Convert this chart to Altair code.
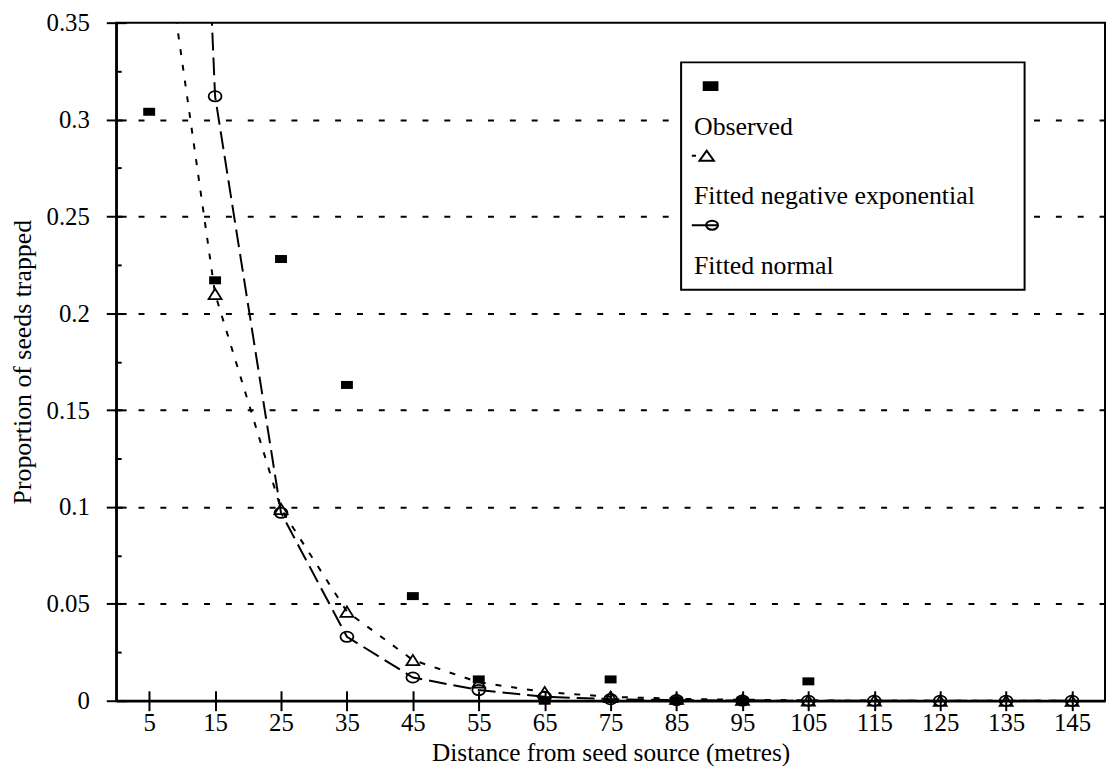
import altair as alt
import pandas as pd

FONT = "Liberation Serif"

distance = [5, 15, 25, 35, 45, 55, 65, 75, 85, 95, 105, 115, 125, 135, 145]
observed = [0.304, 0.217, 0.228, 0.163, 0.054, 0.011, 0.0, 0.011, 0.0, 0.0, 0.010,
            None, None, None, None]
fitted_neg_exp = [0.45, 0.210, 0.099, 0.046, 0.021, 0.0095, 0.0045, 0.002, 0.001, 0.0005, 0.0002, 0.0001, 0.0, 0.0, 0.0]
fitted_normal = [1.1, 0.312, 0.097, 0.033, 0.012, 0.0055, 0.002, 0.0008, 0.0003, 0.0001, 0.0, 0.0, 0.0, 0.0, 0.0]

series_names = ["Observed", "Fitted negative exponential", "Fitted normal"]
y_major = [0, 0.05, 0.1, 0.15, 0.2, 0.25, 0.3, 0.35]
y_all = [0, 0.025, 0.05, 0.075, 0.1, 0.125, 0.15, 0.175, 0.2, 0.225, 0.25, 0.275, 0.3, 0.325, 0.35]

df = pd.DataFrame({"distance": distance, "observed": observed,
                   "negexp": fitted_neg_exp, "normal": fitted_normal})
legend_df = pd.DataFrame({"series": series_names})

W, H = 996, 683
xs = alt.Scale(domain=[0, 150], nice=False, zero=False)
ys = alt.Scale(domain=[0, 0.35], nice=False, zero=True)

# marker shapes (custom SVG paths)
RECT = "M-1,-0.67 L1,-0.67 L1,0.67 L-1,0.67 Z"
TRI = "M-1,0.8 L0,-0.8 L1,0.8 Z"
ELL = "M-1,0 A1,0.8 0 1,1 1,0 A1,0.8 0 1,1 -1,0 Z"
RECT_LEG = "M-0.1,-0.33 L1.05,-0.33 L1.05,0.33 L-0.1,0.33 Z"
TRI_LEG = "M-1.1,0 L-0.75,0 M-0.45,0.42 L0.15,-0.42 L0.75,0.42 Z"
ELL_LEG = "M-1.1,0 L1.1,0 M0.1,0 A0.5,0.38 0 1,1 1.1,0 A0.5,0.38 0 1,1 0.1,0 Z"

x_main = alt.Axis(values=distance, title="Distance from seed source (metres)",
                  tickSize=10, tickWidth=2, tickColor="black",
                  domainColor="black", domainWidth=2.5,
                  labelFont=FONT, labelFontSize=25, labelColor="black", labelPadding=0,
                  labelFlush=False, titleFont=FONT, titleFontSize=25.5,
                  titleFontWeight="normal", titleColor="black", titlePadding=5, grid=False)
y_main = alt.Axis(values=y_major, format="~g", title="Proportion of seeds trapped",
                  tickSize=10, tickWidth=2, tickColor="black",
                  domainColor="black", domainWidth=2.5,
                  labelFont=FONT, labelFontSize=25, labelColor="black", labelPadding=17,
                  titleFont=FONT, titleFontSize=26, titleFontWeight="normal",
                  titleColor="black", titlePadding=11,
                  grid=True, gridColor="black", gridWidth=2, gridDash=[6, 16],
                  gridOpacity={"condition": {"test": "datum.value > 0.001 && datum.value < 0.34",
                                             "value": 1}, "value": 0})
x_inner = alt.Axis(orient="top", offset=-H, values=distance, labels=False, domain=False,
                   tickSize=10, tickWidth=2, tickColor="black", title=None, grid=False)
y_inner = alt.Axis(orient="right", offset=-W, values=y_all, labels=False, domain=False,
                   tickSize={"condition": {"test": "round(datum.value*1000) % 50 == 0",
                                           "value": 10}, "value": 5},
                   tickWidth=2, tickColor="black", title=None, grid=False)

base = alt.Chart(df)

negexp_line = base.mark_line(clip=True, color="black", strokeWidth=2,
                             strokeDash=[6, 10]).encode(
    x=alt.X("distance:Q", scale=xs, axis=x_inner),
    y=alt.Y("negexp:Q", scale=ys, axis=y_inner),
)
normal_line = base.mark_line(clip=True, color="black", strokeWidth=2,
                             strokeDash=[18, 7]).encode(
    x=alt.X("distance:Q", scale=xs, axis=None),
    y=alt.Y("normal:Q", scale=ys, axis=None),
)
obs_pts = base.mark_point(shape=RECT, filled=True, color="black", size=144,
                          opacity=1).encode(
    x=alt.X("distance:Q", scale=xs, axis=x_main),
    y=alt.Y("observed:Q", scale=ys, axis=y_main),
)
negexp_pts = base.transform_filter("datum.negexp <= 0.35").mark_point(
    shape=TRI, filled=False, stroke="black", strokeWidth=1.8, size=169, opacity=1).encode(
    x=alt.X("distance:Q", scale=xs, axis=None),
    y=alt.Y("negexp:Q", scale=ys, axis=None),
)
normal_pts = base.transform_filter("datum.normal <= 0.35").mark_point(
    shape=ELL, filled=False, stroke="black", strokeWidth=1.8, size=169, opacity=1).encode(
    x=alt.X("distance:Q", scale=xs, axis=None),
    y=alt.Y("normal:Q", scale=ys, axis=None),
)

PAD = "\u2800" * 2
leg = alt.Legend(title=None, orient="none", legendX=569, legendY=40, direction="vertical",
                 strokeColor="black", fillColor="white", padding=11,
                 labelFont=FONT, labelFontSize=26, labelColor="black",
                 labelExpr="['', datum.label + '" + PAD + "']", labelBaseline="top",
                 labelOffset={"expr": "-24"}, labelLimit=700,
                 symbolSize=576, symbolStrokeWidth=2, symbolStrokeColor="black",
                 rowPadding=3)

legend_carrier = alt.Chart(legend_df).transform_filter("false").mark_point(
    filled=True, strokeWidth=2, opacity=1).encode(
    shape=alt.Shape("series:N", scale=alt.Scale(domain=series_names,
                                                range=[RECT_LEG, TRI_LEG, ELL_LEG]),
                    legend=leg),
    fill=alt.Fill("series:N", scale=alt.Scale(domain=series_names,
                                              range=["black", "white", "white"]),
                  legend=leg),
    stroke=alt.Stroke("series:N", scale=alt.Scale(domain=series_names,
                                                  range=["black", "black", "black"]),
                      legend=leg),
)

chart = alt.layer(negexp_line, normal_line, obs_pts, negexp_pts, normal_pts,
                  legend_carrier).resolve_axis(
    x="independent", y="independent"
).properties(
    width=W, height=H,
    padding={"left": 109, "top": 12, "right": 2, "bottom": 66},
    autosize=alt.AutoSizeParams(type="none"),
    background="white",
).configure_view(stroke="black", strokeWidth=2).configure_legend(strokeWidth=2)

chart.save("out.html", embed_options={"renderer": "svg", "actions": False})
